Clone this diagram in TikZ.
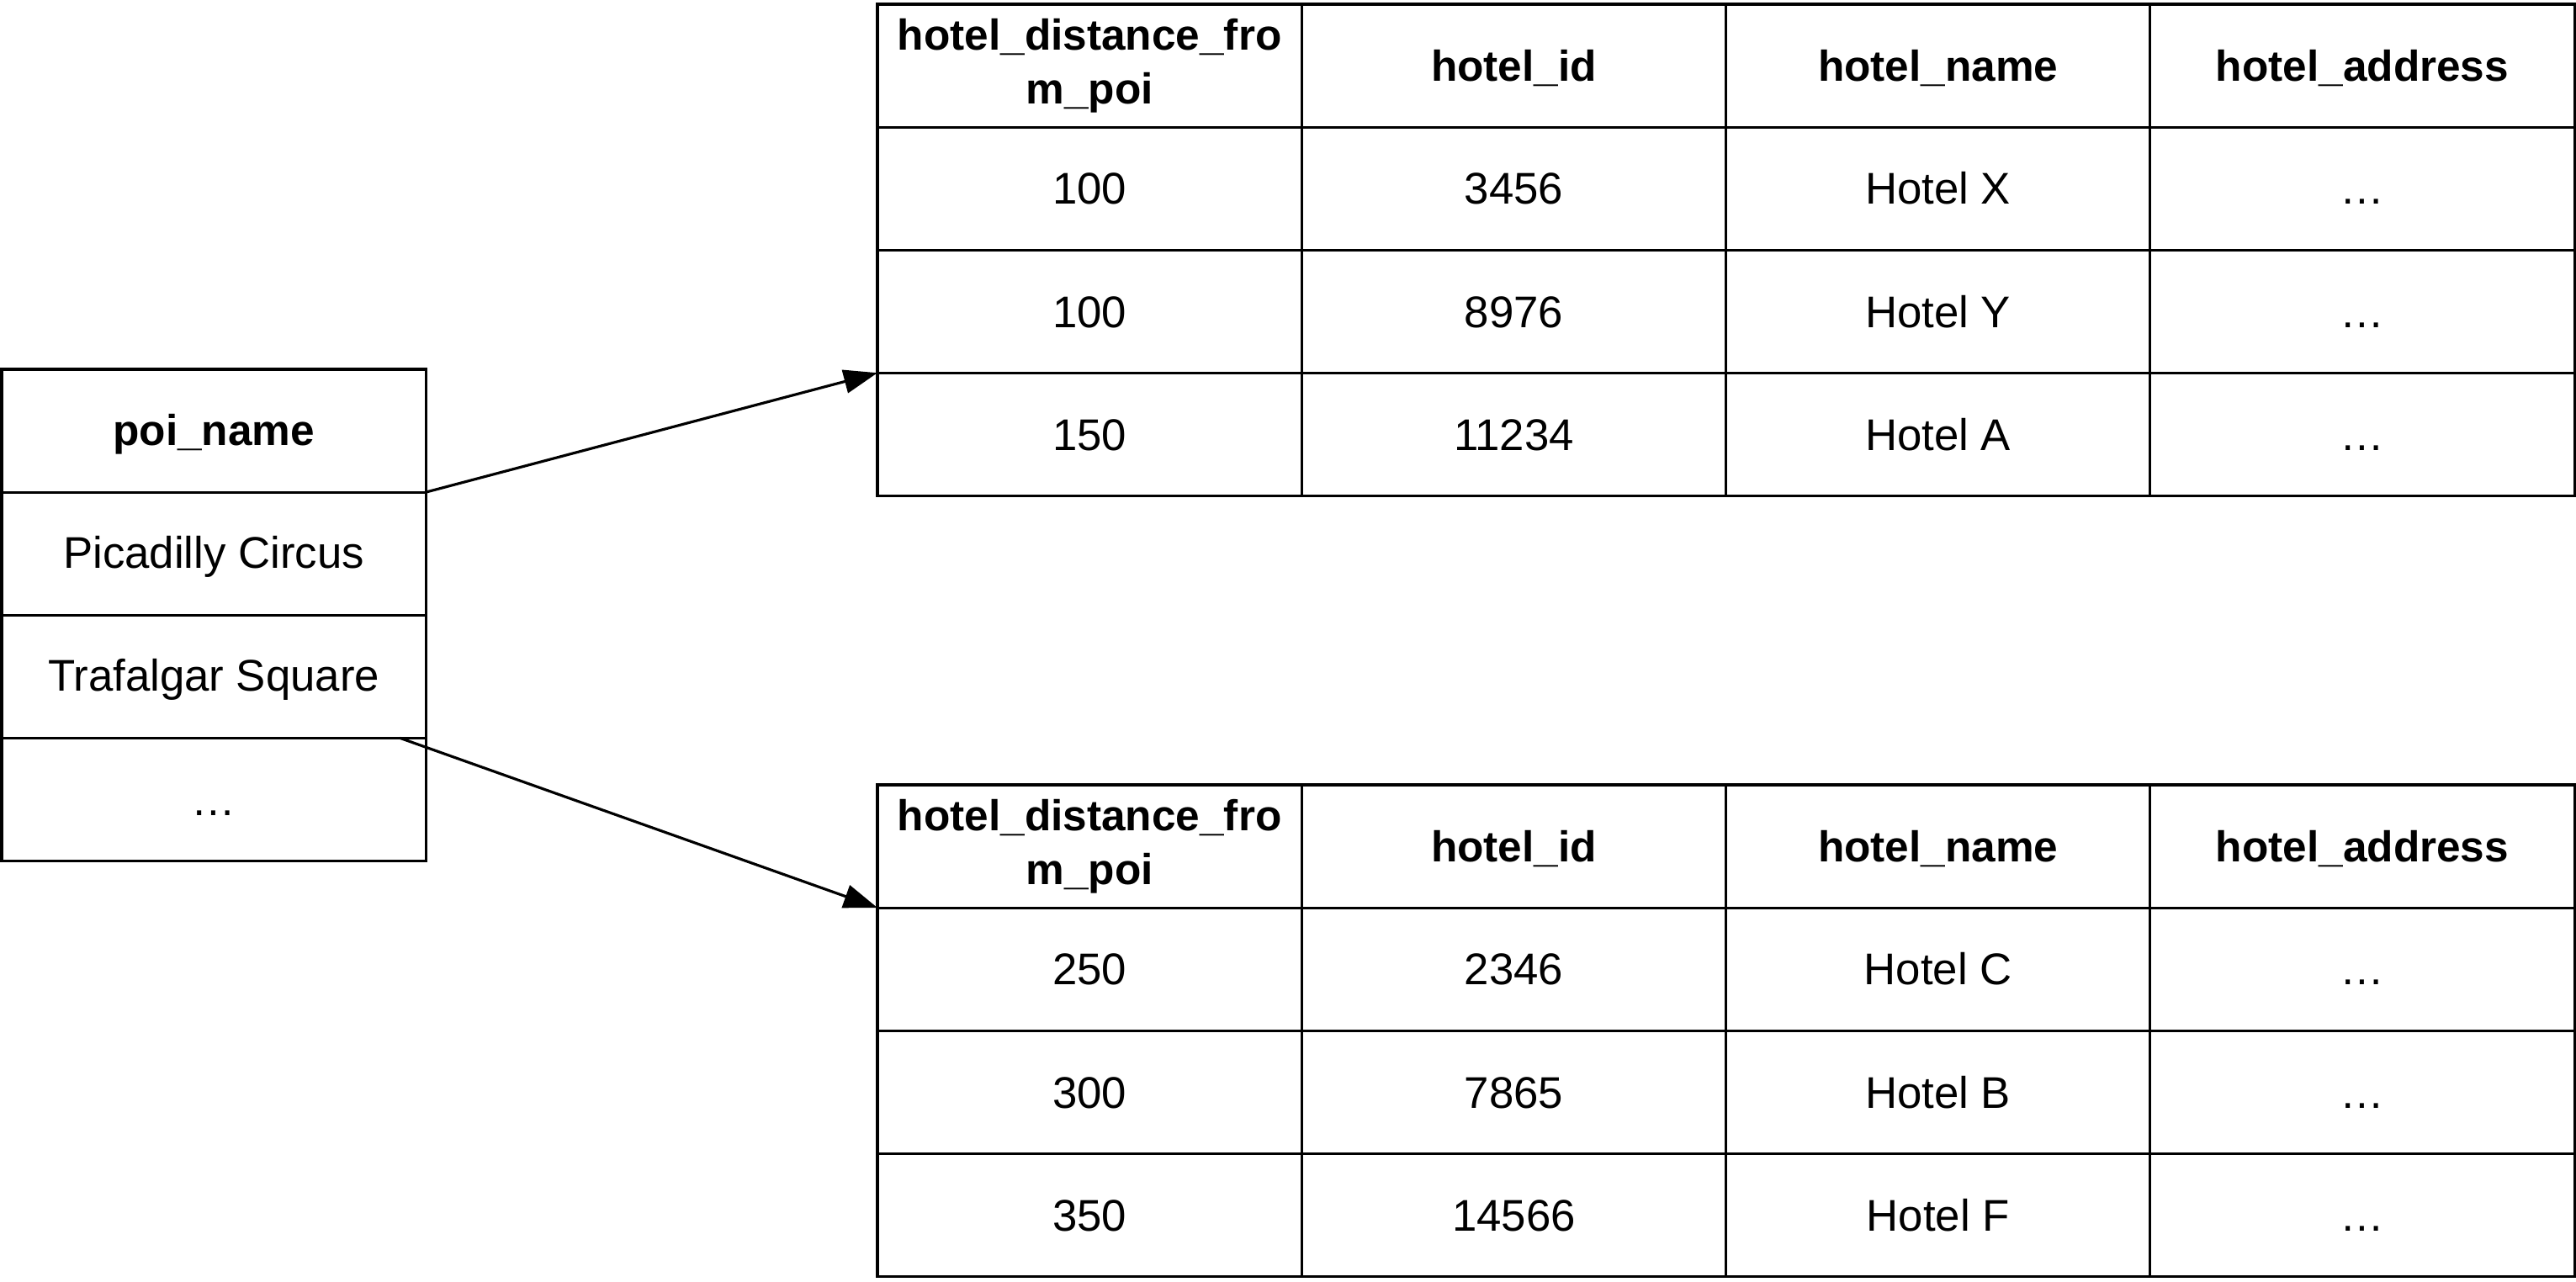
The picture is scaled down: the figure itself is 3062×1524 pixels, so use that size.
\documentclass[tikz,border=0pt]{standalone}
\usepackage{fontspec}
\setmainfont{Liberation Sans}
\usetikzlibrary{positioning,arrows.meta}
\begin{document}
\begin{tikzpicture}[x=0.01cm,y=-0.01cm,
    cell/.style = {draw,line width=0.9pt,outer sep=0pt,inner sep=0pt,minimum width=5.04cm,minimum height=1.46cm,align=center,
        font=\fontsize{15}{18.1}\selectfont,
        execute at begin node={\rule{0pt}{13pt}},execute at end node={\rule[-2.3pt]{0pt}{2.3pt}}},
    head/.style = {cell,font=\fontsize{14.6}{18.1}\selectfont\bfseries},
    headtwo/.style = {head,execute at begin node={\rule{0pt}{15pt}}},
    arrow/.style = {line width=0.9pt,-{Triangle[length=0.4cm,width=0.28cm]}}]
    \useasboundingbox (0,0) rectangle (3062,1524);

    % poi list
    \node[head,anchor=north west] (poi-0) at (2,439) {poi\_name};
    \foreach \t [count=\r] in {Picadilly Circus,Trafalgar Square,…}{
        \pgfmathtruncatemacro\p{\r-1}
        \node[cell,below=0pt of poi-\p] (poi-\r) {\t};
    }

    % hotel tables, headers
    \foreach \tab/\y in {ta/5,tb/933}{
        \node[headtwo,anchor=north west] (\tab-0-1) at (1043,\y) {hotel\_distance\_fro\\m\_poi};
        \node[head,right=0pt of \tab-0-1] (\tab-0-2) {hotel\_id};
        \node[head,right=0pt of \tab-0-2] (\tab-0-3) {hotel\_name};
        \node[head,right=0pt of \tab-0-3] (\tab-0-4) {hotel\_address};
    }

    % rows
    \foreach \d/\id/\nm [count=\r] in {100/3456/Hotel X,100/8976/Hotel Y,150/11234/Hotel A}{
        \pgfmathtruncatemacro\p{\r-1}
        \node[cell,below=0pt of ta-\p-1] (ta-\r-1) {\d};
        \node[cell,right=0pt of ta-\r-1] (ta-\r-2) {\id};
        \node[cell,right=0pt of ta-\r-2] (ta-\r-3) {\nm};
        \node[cell,right=0pt of ta-\r-3] (ta-\r-4) {…};
    }
    \foreach \d/\id/\nm [count=\r] in {250/2346/Hotel C,300/7865/Hotel B,350/14566/Hotel F}{
        \pgfmathtruncatemacro\p{\r-1}
        \node[cell,below=0pt of tb-\p-1] (tb-\r-1) {\d};
        \node[cell,right=0pt of tb-\r-1] (tb-\r-2) {\id};
        \node[cell,right=0pt of tb-\r-2] (tb-\r-3) {\nm};
        \node[cell,right=0pt of tb-\r-3] (tb-\r-4) {…};
    }

    \draw[arrow] (poi-1.north east) -- (ta-3-1.north west);
    \draw[arrow] ([xshift=-0.31cm]poi-3.north east) -- (tb-1-1.north west);
\end{tikzpicture}
\end{document}
